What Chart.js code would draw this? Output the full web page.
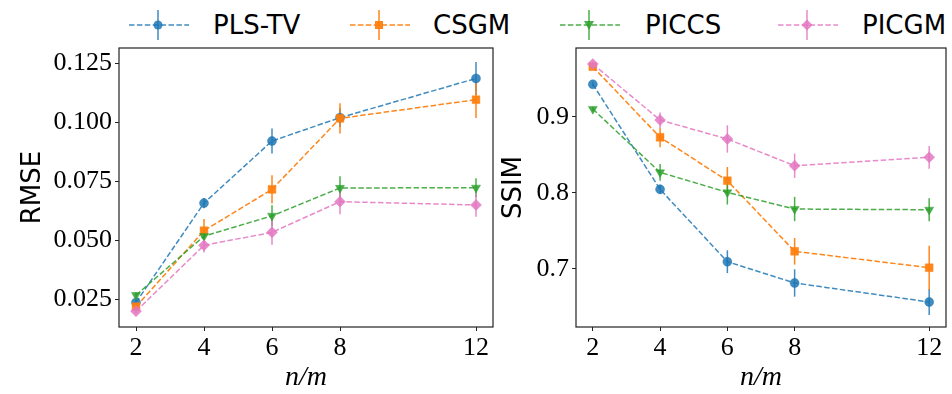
<!DOCTYPE html>
<html>
<head>
<meta charset="utf-8">
<script src="https://cdn.jsdelivr.net/npm/chart.js@4/dist/chart.umd.min.js"></script>
<style>
    body { margin: 0; background: #fff; width: 952px; height: 394px; overflow: hidden; position: relative; font-family: "DejaVu Sans", sans-serif; }
    canvas { position: absolute; top: 0; }
    #rmseChart { left: 0; }
    #ssimChart { left: 500px; }
    .legend-item { position: absolute; top: 8px; height: 34px; }
    .legend-item svg { position: absolute; left: 0; top: 0; }
    .legend-item span { position: absolute; top: 0; line-height: 34px; font-size: 26px; color: #000; white-space: nowrap; }
</style>
</head>
<body>
<div id="legend"></div>
<canvas id="rmseChart" width="500" height="394"></canvas>
<canvas id="ssimChart" width="452" height="394"></canvas>
<script>
const xValues = [2, 4, 6, 8, 12];
const xTicks = [2, 4, 6, 8, 12];
const seriesNames = ['PLS-TV', 'CSGM', 'PICCS', 'PICGM'];

const rmsePlsTv = [0.0237, 0.0658, 0.0921, 0.1020, 0.1186];
const rmseCsgm = [0.0219, 0.0541, 0.0716, 0.1017, 0.1096];
const rmsePiccs = [0.0268, 0.0518, 0.0604, 0.0722, 0.0723];
const rmsePicgm = [0.0200, 0.0479, 0.0534, 0.0664, 0.0650];
const rmsePlsTvErr = [0.0012, 0.0022, 0.0053, 0.0040, 0.0070];
const rmseCsgmErr = [0.0012, 0.0050, 0.0060, 0.0064, 0.0078];
const rmsePiccsErr = [0.0012, 0.0020, 0.0045, 0.0050, 0.0040];
const rmsePicgmErr = [0.0010, 0.0030, 0.0053, 0.0053, 0.0050];
const rmseTicks = [0.025, 0.050, 0.075, 0.100, 0.125];

const ssimPlsTv = [0.9426, 0.8044, 0.7092, 0.6812, 0.6562];
const ssimCsgm = [0.9658, 0.8729, 0.8158, 0.7229, 0.7013];
const ssimPiccs = [0.9101, 0.8267, 0.8004, 0.7785, 0.7776];
const ssimPicgm = [0.9693, 0.8956, 0.8707, 0.8355, 0.8466];
const ssimPlsTvErr = [0.003, 0.006, 0.015, 0.018, 0.017];
const ssimCsgmErr = [0.004, 0.013, 0.018, 0.0175, 0.029];
const ssimPiccsErr = [0.003, 0.011, 0.016, 0.016, 0.015];
const ssimPicgmErr = [0.003, 0.010, 0.018, 0.016, 0.015];
const ssimTicks = [0.7, 0.8, 0.9];

const colors = ['rgba(31,119,180,0.85)', 'rgba(255,127,14,0.95)', 'rgba(44,160,44,0.85)', 'rgba(227,119,194,0.85)'];
const markers = [
    { style: 'circle', radius: 4.5, rotation: 0 },
    { style: 'rect', radius: 5.5, rotation: 0 },
    { style: 'triangle', radius: 5.2, rotation: 180 },
    { style: 'rectRot', radius: 5.5, rotation: 0 }
];
const tickFont = { family: '"Liberation Serif", serif', size: 26 };
const frameColor = '#222';

function buildDatasets(values, errors) {
    return values.map(function (series, i) {
        return {
            label: seriesNames[i],
            data: series.map(function (v, j) { return { x: xValues[j], y: v }; }),
            errors: errors[i],
            borderColor: colors[i],
            backgroundColor: colors[i],
            borderWidth: 1.5,
            borderDash: [5.5, 2.4],
            pointStyle: markers[i].style,
            pointRadius: markers[i].radius,
            pointRotation: markers[i].rotation,
            pointBorderWidth: 0.5,
            pointBorderColor: colors[i],
            pointBackgroundColor: colors[i],
            order: 3 - i,
            tension: 0
        };
    });
}

const errorBars = {
    id: 'errorBars',
    beforeDatasetsDraw(chart) {
        const ctx = chart.ctx;
        const xs = chart.scales.x;
        const ys = chart.scales.y;
        ctx.save();
        ctx.lineWidth = 1.5;
        chart.data.datasets.forEach(function (ds) {
            ctx.strokeStyle = ds.borderColor;
            ds.data.forEach(function (p, j) {
                const px = xs.getPixelForValue(p.x);
                ctx.beginPath();
                ctx.moveTo(px, ys.getPixelForValue(p.y - ds.errors[j]));
                ctx.lineTo(px, ys.getPixelForValue(p.y + ds.errors[j]));
                ctx.stroke();
            });
        });
        ctx.restore();
    }
};

const frame = {
    id: 'frame',
    afterDatasetsDraw(chart) {
        const a = chart.chartArea;
        const ctx = chart.ctx;
        ctx.save();
        ctx.strokeStyle = frameColor;
        ctx.lineWidth = 1.2;
        ctx.strokeRect(a.left, a.top, a.right - a.left, a.bottom - a.top);
        ctx.restore();
    }
};

function makeChart(canvasId, datasets, opts) {
    return new Chart(document.getElementById(canvasId), {
        type: 'line',
        data: { datasets: datasets },
        plugins: [errorBars, frame],
        options: {
            responsive: false,
            animation: false,
            layout: { padding: { top: 48, right: opts.padRight, left: 0, bottom: 0 } },
            plugins: { legend: { display: false }, tooltip: { enabled: false } },
            scales: {
                x: {
                    type: 'linear',
                    min: 1.5,
                    max: 12.5,
                    afterBuildTicks: function (scale) {
                        scale.ticks = xTicks.map(function (v) { return { value: v }; });
                    },
                    afterFit: function (scale) { scale.height = 67; },
                    ticks: { font: tickFont, color: '#000', padding: 2, maxRotation: 0, autoSkip: false,
                        callback: function (v) { return String(v); } },
                    grid: { drawOnChartArea: false, drawTicks: true, tickLength: 4, tickColor: frameColor, tickWidth: 1 },
                    border: { display: false },
                    title: { display: true, text: 'n/m', color: '#000', padding: 0,
                        font: { family: '"Liberation Serif", serif', size: 28, style: 'italic' } }
                },
                y: {
                    type: 'linear',
                    min: opts.yMin,
                    max: opts.yMax,
                    afterBuildTicks: function (scale) {
                        scale.ticks = opts.yTicks.map(function (v) { return { value: v }; });
                    },
                    afterFit: function (scale) { scale.width = opts.yWidth; },
                    ticks: { font: tickFont, color: '#000', padding: 3,
                        callback: function (v) { return v.toFixed(opts.decimals); } },
                    grid: { drawOnChartArea: false, drawTicks: true, tickLength: 4, tickColor: frameColor, tickWidth: 1 },
                    border: { display: false },
                    title: { display: true, text: opts.yLabel, color: '#000', padding: { top: opts.titlePad, bottom: 0 },
                        font: { family: '"DejaVu Sans", sans-serif', size: 26 } }
                }
            }
        }
    });
}

function buildLegend() {
    const handleLeft = [128, 349, 559, 777];
    const textLeft = [213, 433, 645, 862];
    const legend = document.getElementById('legend');
    seriesNames.forEach(function (name, i) {
        const item = document.createElement('div');
        item.className = 'legend-item';
        item.style.left = handleLeft[i] + 'px';
        const c = colors[i];
        let marker;
        if (i === 0) marker = '<circle cx="30" cy="17" r="4.5" fill="' + c + '"/>';
        else if (i === 1) marker = '<rect x="26" y="13" width="8" height="8" fill="' + c + '"/>';
        else if (i === 2) marker = '<polygon points="25,13 35,13 30,22" fill="' + c + '"/>';
        else marker = '<polygon points="30,11.5 35.5,17 30,22.5 24.5,17" fill="' + c + '"/>';
        item.innerHTML =
            '<svg width="62" height="34">' +
            '<line x1="1" y1="17" x2="61" y2="17" stroke="' + c + '" stroke-width="1.5" stroke-dasharray="5.5 2.4"/>' +
            '<line x1="30" y1="2" x2="30" y2="32" stroke="' + c + '" stroke-width="1.5"/>' +
            marker + '</svg>' +
            '<span style="left:' + (textLeft[i] - handleLeft[i]) + 'px">' + name + '</span>';
        legend.appendChild(item);
    });
}

buildLegend();

makeChart('rmseChart',
    buildDatasets([rmsePlsTv, rmseCsgm, rmsePiccs, rmsePicgm], [rmsePlsTvErr, rmseCsgmErr, rmsePiccsErr, rmsePicgmErr]),
    { yMin: 0.0133, yMax: 0.1315, yTicks: rmseTicks, decimals: 3, yWidth: 119, padRight: 7, yLabel: 'RMSE', titlePad: 18 });

makeChart('ssimChart',
    buildDatasets([ssimPlsTv, ssimCsgm, ssimPiccs, ssimPicgm], [ssimPlsTvErr, ssimCsgmErr, ssimPiccsErr, ssimPicgmErr]),
    { yMin: 0.6233, yMax: 0.9904, yTicks: ssimTicks, decimals: 1, yWidth: 76, padRight: 2, yLabel: 'SSIM', titlePad: -1 });
</script>
</body>
</html>
